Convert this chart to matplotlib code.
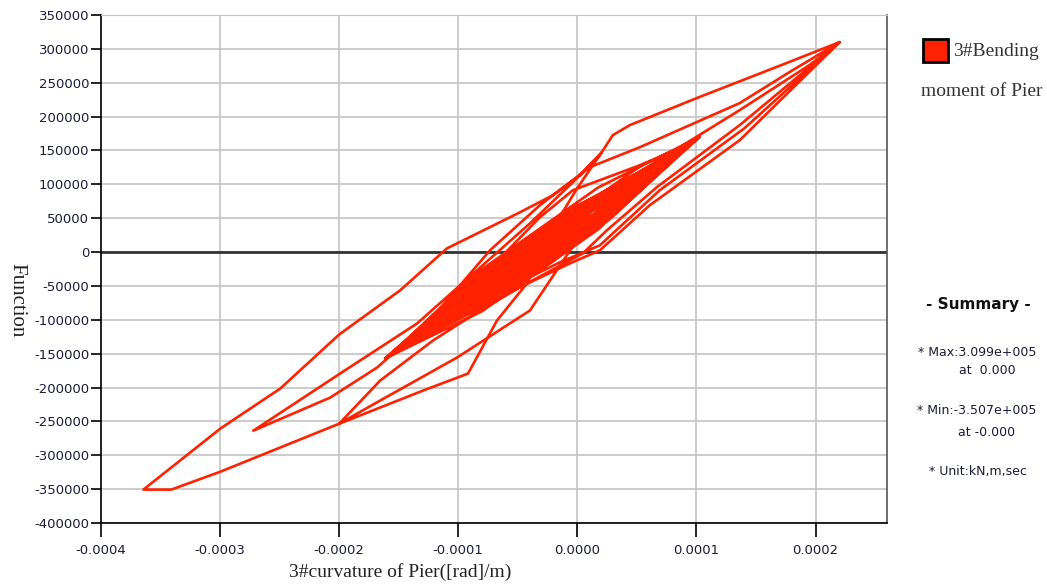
import numpy as np
import matplotlib
matplotlib.use("Agg")
import matplotlib.pyplot as plt
from matplotlib.patches import Rectangle
from matplotlib.ticker import FuncFormatter

# curvature in 1e-6 rad/m, bending moment in kN*m (turning points)
small_cycles_1 = [
    (-29.2, 6400), (10.4, 55500), (-29.9, -4500), (-75.4, -50900), (-19.6, 32250),
    (43.4, 96400), (-27.9, -9800), (-108.4, -91800), (-21.6, 37500), (76.4, 137300),
    (-25.9, -15000), (-141.4, -132700), (-26.7, 38100), (102.8, 170000), (-21.2, -14600),
    (-161.2, -157200), (-43.4, 18150), (89.6, 153600), (-12.7, 1400), (-128.2, -116300),
    (-38.3, 17500), (63.2, 120900), (-36.0, -26800), (-148.0, -140800), (-33.3, 29900),
    (96.2, 161800), (3.2, 23350), (-101.8, -83600), (-42.9, 4100), (23.6, 71800),
]
to_b = [(-5.0, 5000), (-39.6, -86200), (-100.8, -155700), (-165.4, -219300), (-199.7, -253400)]
b_to_tip = [
    (-129.3, -204500), (-91.6, -179400), (-67.3, -101000), (-42.2, -46300),
    (-20.4, 35100), (0.0, 94200), (20.7, 147500),
]
tip_to_a = [(-1.9, 106000), (-39.6, 42400), (-134.4, -105500), (-199.0, -179400), (-271.8, -263700)]
a_to_max = [
    (-207.3, -214900), (-167.9, -170500), (-123.5, -101000), (-73.2, 2500), (-31.3, 69100),
    (10.6, 125300), (52.6, 154800), (136.4, 219900), (178.3, 265800), (220.2, 309900),
]
max_to_min = [
    (136.4, 187400), (66.8, 95700), (24.9, 32100), (4.8, -1900), (-42.2, -46300),
    (-81.6, -86200), (-121.0, -130600), (-165.4, -189800), (-199.7, -253400),
    (-268.5, -302200), (-299.5, -324300), (-340.6, -350700), (-364.0, -350700),
]
min_to_max = [
    (-299.5, -260700), (-249.2, -201600), (-199.7, -121700), (-148.6, -56600),
    (-109.2, 5500), (-48.0, 58700), (-20.4, 83900), (2.3, 113400), (19.0, 143000),
    (29.9, 172600), (44.2, 187400), (100.3, 227300), (175.8, 279100), (220.2, 309900),
]
max_unload = [(136.4, 165200), (60.9, 69100), (19.0, 2500), (-6.1, -16700)]
small_cycles_2 = [
    (-134.8, -124500), (-32.5, 27800), (83.0, 145500), (-28.6, -20700), (-154.6, -149000),
    (-49.2, 7850), (69.8, 129100), (-17.0, -100), (-115.0, -99900),
]
third_peak = [
    (-31.3, 51300), (-3.6, 91300), (75.2, 143000), (136.4, 209600), (195.0, 276100),
    (220.2, 309900), (140.4, 182800), (69.3, 91300), (19.0, 9900), (-14.5, -15200),
]
small_cycles_3 = [
    (-121.6, -108100), (-47.2, 2600), (36.8, 88200), (-19.0, 5150), (-82.0, -59000),
    (-41.7, 900), (3.8, 47300), (-21.0, 10400), (-49.0, -18100), (-22.6, 14600),
]
small_cycles_4 = [
    (8.2, 71350), (55.8, 130250), (96.2, 161820),
    (28.2, 49670), (-72.2, -74670), (-154.6, -149020),
    (-85.4, -32310), (17.6, 95290), (102.8, 170000),
    (34.3, 66600), (-63.3, -54460), (-141.4, -132660),
    (-78.1, -38720), (11.7, 72520), (83.0, 145460),
    (17.7, 33660), (-79.9, -87400), (-161.2, -157200),
    (-92.0, -48200), (8.4, 76140), (89.6, 153640),
    (21.5, 56900), (-73.5, -60900), (-148.0, -140840),
    (-83.1, -51100), (6.7, 60140), (76.4, 137280),
    (19.0, 43000), (-65.4, -61700), (-134.8, -124480),
    (-82.6, -31960), (-3.4, 66200), (63.2, 120920),
    (15.7, 46620), (-52.9, -38460), (-108.4, -91760),
    (-66.4, -33570), (-8.4, 38410), (36.8, 88200),
    (7.5, 42640), (-34.7, -9720), (-68.8, -42680),
    (-16.0, 22760),
]
small_cycles_5 = [
    (14.5, 65170), (56.7, 117530), (89.6, 153640),
    (17.9, 58640), (-79.7, -62420), (-154.6, -149020),
    (-83.0, -46320), (17.4, 78020), (96.2, 161820),
    (21.4, 59810), (-81.6, -67790), (-161.2, -157200),
    (-86.8, -46440), (18.8, 84440), (102.8, 170000),
    (34.0, 59950), (-66.4, -64390), (-148.0, -140840),
    (-79.9, -51800), (12.5, 62720), (83.0, 145460),
    (16.5, 59920), (-73.3, -51320), (-141.4, -132660),
    (-83.2, -40480), (1.2, 64220), (69.8, 129100),
    (14.0, 46030), (-65.2, -52130), (-128.2, -116300),
    (-77.5, -42690), (-6.3, 45650), (50.0, 104560),
    (8.4, 45320), (-49.6, -26660), (-95.2, -75400),
    (-29.2, 6400),
]

segments = [small_cycles_1, to_b, b_to_tip, tip_to_a, a_to_max, max_to_min,
            min_to_max, max_unload, small_cycles_2, third_peak, small_cycles_3,
            small_cycles_4, small_cycles_5]
pts = np.array([p for seg in segments for p in seg], dtype=float)
curv = pts[:, 0] * 1e-6
moment = pts[:, 1]

x_ticks = [-0.0004, -0.0003, -0.0002, -0.0001, 0.0, 0.0001, 0.0002]
y_ticks = list(range(-400000, 350001, 50000))

fig = plt.figure(figsize=(10.47, 5.85), dpi=100)
ax = fig.add_axes([0.096, 0.106, 0.7512, 0.8684])

ax.plot(curv, moment, color="#ff2200", lw=1.9, zorder=3, solid_joinstyle="round")
ax.axhline(0, color="#333333", lw=2.0, zorder=2)

ax.set_xlim(-0.0004, 0.00026)
ax.set_ylim(-400000, 350000)
ax.set_xticks(x_ticks)
ax.set_yticks(y_ticks)
ax.xaxis.set_major_formatter(FuncFormatter(lambda v, p: f"{v:.4f}".replace("-0.0000", "0.0000")))
ax.yaxis.set_major_formatter(FuncFormatter(lambda v, p: f"{int(round(v))}"))
ax.grid(True, color="#c4c4c4", lw=1.2, zorder=0)
ax.set_axisbelow(True)

txt_col = "#1c1c3a"
ax.tick_params(axis="y", direction="out", length=7, width=1.2, pad=1, labelsize=9.5, labelcolor=txt_col)
ax.tick_params(axis="x", direction="out", length=10, width=1.2, pad=5, labelsize=9.5, labelcolor=txt_col)
for s in ["left", "bottom"]:
    ax.spines[s].set_color("black")
    ax.spines[s].set_linewidth(1.2)
ax.spines["top"].set_color("#c4c4c4")
ax.spines["right"].set_color("#555555")
ax.spines["right"].set_linewidth(1.2)

fig.text(400 / 1047, 1 - 572 / 585, "3#curvature of Pier([rad]/m)", family="Liberation Serif",
         fontsize=14, ha="center", va="center", color="#222222")
fig.text(17 / 1047, 1 - 300 / 585, "Function", family="Liberation Serif",
         fontsize=15, rotation=-90, ha="center", va="center", color="#222222")

# legend
fig.patches.append(Rectangle((923 / 1047, 1 - 62 / 585), 25 / 1047, 23 / 585,
                             transform=fig.transFigure, facecolor="#ff2200",
                             edgecolor="black", lw=2.0))
fig.text(953 / 1047, 1 - 51 / 585, "3#Bending", family="Liberation Serif",
         fontsize=14, ha="left", va="center", color="#333333")
fig.text(921 / 1047, 1 - 92 / 585, "moment of Pier", family="Liberation Serif",
         fontsize=14, ha="left", va="center", color="#333333")

# summary
fig.text(978 / 1047, 1 - 305 / 585, "- Summary -", fontsize=11, fontweight="bold",
         ha="center", va="center", color="#111111")
summary_lines = [
    ("* Max:3.099e+005", 977, 352),
    ("at  0.000", 987, 371),
    ("* Min:-3.507e+005", 977, 411),
    ("at -0.000", 987, 432),
    ("* Unit:kN,m,sec", 978, 472),
]
for s, x, y in summary_lines:
    fig.text(x / 1047, 1 - y / 585, s, fontsize=9, ha="center", va="center", color=txt_col)

fig.savefig("out.png", dpi=100)
